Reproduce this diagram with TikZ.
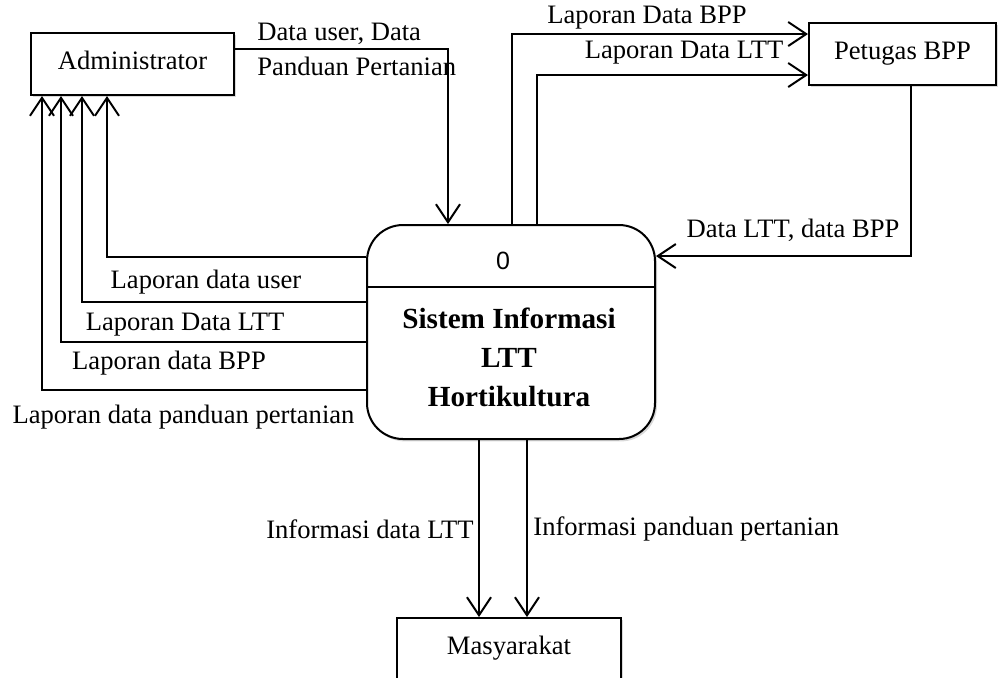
\documentclass[tikz,border=0pt]{standalone}
\usepackage{fontspec}
\setmainfont{Liberation Serif}
\newfontfamily\numfont{Liberation Sans}
\usetikzlibrary{arrows.meta,shadows}

\begin{document}
\begin{tikzpicture}[
  x=0.5pt, y=-0.5pt,
  font=\fontsize{13.3}{16}\selectfont,
  ext/.style = {rectangle, draw, line width=1pt, fill=white, inner sep=0pt,
                minimum height=31pt, text height=9.5pt, text depth=4.5pt,
                drop shadow={shadow xshift=1pt, shadow yshift=-1.2pt, opacity=0.3}},
  procbox/.style = {rectangle, draw, line width=1pt, rounded corners=18pt,
                    fill=white, minimum width=144pt, minimum height=107pt,
                    drop shadow={shadow xshift=1pt, shadow yshift=-1.2pt, opacity=0.3}},
  flow/.style = {-{Straight Barb[length=9pt, width=12pt]}, line width=1pt},
  lbl/.style = {inner sep=0pt}
]
\useasboundingbox (0,0) rectangle (998,677);
\clip (0,0) rectangle (998,677);

% External entities
\node[ext, minimum width=101.5pt] (admin)   at (132.5,64) {Administrator};
\node[ext, minimum width=93.5pt]  (petugas) at (902.5,54) {Petugas BPP};
\node[ext, minimum width=112pt]   (masy)    at (509,649)  {Masyarakat};

% Process 0
\node[procbox] (proc) at (511,332) {};
\coordinate (sep) at (511,287);
\draw[line width=1pt] (proc.west |- sep) -- (proc.east |- sep);
\node[font=\numfont\fontsize{12.5}{15}\selectfont] (pnum) at (503,261) {0};
\node[align=center, font=\bfseries\fontsize{14.6}{19.5}\selectfont] (pname) at (509,357)
  {Sistem Informasi\\LTT\\Hortikultura};

% Administrator -> process
\coordinate (dIn) at (448,49);
\draw[flow] (admin.east |- dIn) -- (dIn) -- (dIn |- proc.north);

% process -> Petugas BPP
\coordinate (bppOut) at (512,34);
\coordinate (lttOut) at (537,75);
\draw[flow] (bppOut |- proc.north) -- (bppOut) -- (bppOut -| petugas.west);
\draw[flow] (lttOut |- proc.north) -- (lttOut) -- (lttOut -| petugas.west);

% Petugas BPP -> process
\coordinate (petIn) at (911,256);
\draw[flow] (petIn |- petugas.south) -- (petIn) -- (petIn -| proc.east);

% process -> Administrator (reports)
\coordinate (rUser) at (107,257);
\coordinate (rLtt)  at (82,302);
\coordinate (rBpp)  at (61,342);
\coordinate (rPand) at (42,390);
\draw[flow] (rUser -| proc.west) -- (rUser) -- (rUser |- admin.south);
\draw[flow] (rLtt -| proc.west)  -- (rLtt)  -- (rLtt |- admin.south);
\draw[flow] (rBpp -| proc.west)  -- (rBpp)  -- (rBpp |- admin.south);
\draw[flow] (rPand -| proc.west) -- (rPand) -- (rPand |- admin.south);

% process -> Masyarakat
\coordinate (iLtt)  at (479,529);
\coordinate (iPand) at (527,529);
\draw[flow] (iLtt |- proc.south)  -- (iLtt |- masy.north);
\draw[flow] (iPand |- proc.south) -- (iPand |- masy.north);

% Flow labels
\node[lbl, align=left, anchor=west, font=\fontsize{13.3}{17.5}\selectfont] (lDataIn) at (257,49)
  {Data user, Data\\Panduan Pertanian};
\node[lbl] (lBpp)  at (647,18)  {Laporan Data BPP};
\node[lbl] (lLtt)  at (684,53)  {Laporan Data LTT};
\node[lbl] (lPet)  at (793,230) {Data LTT, data BPP};
\node[lbl] (lUser) at (206,282) {Laporan data user};
\node[lbl] (lLtt2) at (185,325) {Laporan Data LTT};
\node[lbl] (lBpp2) at (169,363) {Laporan data BPP};
\node[lbl] (lPand) at (183.5,417) {Laporan data panduan pertanian};
\node[lbl, anchor=east] (lInfLtt)  at ([xshift=-2.5pt]iLtt)  {Informasi data LTT};
\node[lbl, anchor=west] (lInfPand) at ([xshift=3pt]iPand) {Informasi panduan pertanian};

\end{tikzpicture}
\end{document}
